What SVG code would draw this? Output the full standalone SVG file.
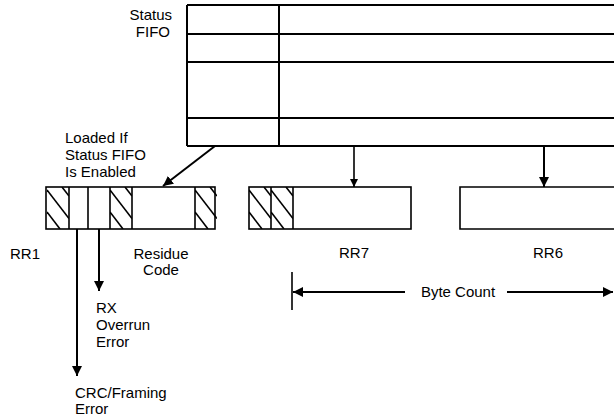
<svg xmlns="http://www.w3.org/2000/svg" width="614" height="417" viewBox="0 0 614 417">
<style>
.ln{stroke:#000;stroke-width:2;fill:none}
.th{stroke:#000;stroke-width:1.6;fill:none}
.ht{stroke:#000;stroke-width:1.6}
text{font-family:"Liberation Sans",Arial,Helvetica,sans-serif;font-size:15px;fill:#000}
</style>
<defs>
<clipPath id="cellclip"><rect x="0" y="0" width="22" height="42"/></clipPath>
<g id="hatch" clip-path="url(#cellclip)">
<line class="ht" x1="15" y1="0" x2="22" y2="9.1"/>
<line class="ht" x1="0" y1="3" x2="22" y2="31.6"/>
<line class="ht" x1="0" y1="25" x2="13" y2="42"/>
</g>
<marker id="ah" viewBox="0 0 10 10" refX="10" refY="5" markerWidth="5" markerHeight="6" markerUnits="strokeWidth" orient="auto">
<path d="M0,0 L10,5 L0,10 z" fill="#000"/>
</marker>
</defs>
<rect width="614" height="417" fill="#fff"/>

<g id="status-fifo">
<line class="ln" x1="187" y1="5" x2="614" y2="5"/>
<line class="ln" x1="187" y1="34" x2="614" y2="34"/>
<line class="ln" x1="187" y1="62" x2="614" y2="62"/>
<line class="ln" x1="187" y1="118" x2="614" y2="118"/>
<line class="ln" x1="187" y1="146" x2="614" y2="146"/>
<line class="ln" x1="187" y1="5" x2="187" y2="146"/>
<line class="ln" x1="279" y1="5" x2="279" y2="146"/>
<text x="172" y="20" text-anchor="end">Status</text>
<text x="170" y="37" text-anchor="end">FIFO</text>
</g>

<g id="loaded-label">
<text x="65" y="143">Loaded If</text>
<text x="65" y="160">Status FIFO</text>
<text x="65" y="177">Is Enabled</text>
</g>

<g id="rr1">
<use href="#hatch" x="47" y="187"/>
<use href="#hatch" x="110" y="187"/>
<use href="#hatch" x="195" y="187"/>
<rect class="th" x="46" y="187" width="169" height="42"/>
<line class="th" x1="69" y1="187" x2="69" y2="229"/>
<line class="th" x1="88" y1="187" x2="88" y2="229"/>
<line class="th" x1="110" y1="187" x2="110" y2="229"/>
<line class="th" x1="132" y1="187" x2="132" y2="229"/>
<line class="th" x1="195" y1="187" x2="195" y2="229"/>
<text x="10" y="259">RR1</text>
<text x="161" y="259" text-anchor="middle">Residue</text>
<text x="161" y="275" text-anchor="middle">Code</text>
</g>

<g id="rr7">
<use href="#hatch" x="249" y="187"/>
<use href="#hatch" x="271" y="187"/>
<rect class="th" x="249" y="187" width="162" height="42"/>
<line class="th" x1="271" y1="187" x2="271" y2="229"/>
<line class="th" x1="293" y1="187" x2="293" y2="229"/>
<text x="354" y="258" text-anchor="middle">RR7</text>
</g>

<g id="rr6">
<polyline class="th" points="614,187 460,187 460,229 614,229"/>
<text x="548" y="258" text-anchor="middle">RR6</text>
</g>

<g id="rx-overrun">
<text x="96" y="313">RX</text>
<text x="96" y="330">Overrun</text>
<text x="96" y="347">Error</text>
</g>

<g id="crc-framing">
<text x="75" y="398">CRC/Framing</text>
<text x="75" y="414">Error</text>
</g>

<g id="byte-count">
<line class="th" x1="292" y1="272" x2="292" y2="310"/>
<text x="458" y="297" text-anchor="middle">Byte Count</text>
</g>

<g id="connectors">
<line class="ln" x1="215" y1="146" x2="163" y2="186" marker-end="url(#ah)"/>
<line class="th" x1="354" y1="146" x2="354" y2="187" marker-end="url(#ah)"/>
<line class="ln" x1="544" y1="146" x2="544" y2="187" marker-end="url(#ah)"/>
<line class="ln" x1="77" y1="229" x2="77" y2="376" marker-end="url(#ah)"/>
<line class="ln" x1="99" y1="229" x2="99" y2="291" marker-end="url(#ah)"/>
<line class="ln" x1="405" y1="292" x2="293" y2="292" marker-end="url(#ah)"/>
<line class="ln" x1="507" y1="292" x2="613" y2="292" marker-end="url(#ah)"/>
</g>
</svg>
